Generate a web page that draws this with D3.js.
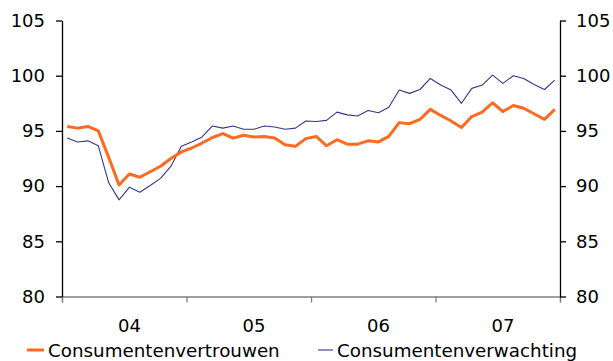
<!DOCTYPE html>
<html>
<head>
<meta charset="utf-8">
<script src="https://cdn.jsdelivr.net/npm/d3@7"></script>
<style>
  html, body { margin: 0; padding: 0; background: #fff; }
  svg { display: block; font-family: "DejaVu Sans", Verdana, sans-serif; }
</style>
</head>
<body>
<svg id="chart" width="613" height="361"></svg>
<script>
// Monthly index values, January 2004 – December 2007
const years = ["04", "05", "06", "07"];
const vertrouwen = [
  95.4, 95.25, 95.4, 95.0, 92.6, 90.1, 91.1, 90.8, 91.3, 91.8, 92.5, 93.1,
  93.45, 93.9, 94.4, 94.75, 94.35, 94.6, 94.45, 94.5, 94.35, 93.75, 93.6, 94.3,
  94.5, 93.65, 94.2, 93.8, 93.8, 94.1, 94.0, 94.5, 95.75, 95.65, 96.05, 96.95,
  96.4, 95.9, 95.3, 96.3, 96.7, 97.55, 96.75, 97.3, 97.05, 96.55, 96.05, 96.95
];
const verwachting = [
  94.35, 94.0, 94.1, 93.65, 90.3, 88.75, 89.9, 89.45, 90.05, 90.7, 91.8, 93.6,
  94.0, 94.45, 95.45, 95.25, 95.45, 95.15, 95.15, 95.45, 95.35, 95.15, 95.25, 95.9,
  95.85, 95.95, 96.7, 96.45, 96.35, 96.85, 96.65, 97.15, 98.7, 98.4, 98.75, 99.75,
  99.15, 98.7, 97.5, 98.85, 99.15, 100.05, 99.3, 100.0, 99.75, 99.2, 98.75, 99.6
];
const yTicks = [80, 85, 90, 95, 100, 105];
const seriesNames = ["Consumentenvertrouwen", "Consumentenverwachting"];
const seriesColors = ["#ff6a21", "#36368f"];

const svg = d3.select("#chart");
const plot = { left: 62, right: 560, top: 20.5, bottom: 296.5 };
const fontSize = 18;

const months = vertrouwen.length;
const x = d3.scaleLinear().domain([0, months]).range([plot.left, plot.right]);
const y = d3.scaleLinear().domain([80, 105]).range([plot.bottom, plot.top]);

// X axis: grey baseline with year separators, labels under each July
const xAxis = svg.append("g").attr("transform", `translate(0,${plot.bottom})`)
  .call(d3.axisBottom(x).tickValues(d3.range(0, months + 1, 12)).tickSize(6).tickFormat(""));
xAxis.select(".domain").attr("stroke", "#808080").attr("stroke-width", 1.3);
xAxis.selectAll(".tick line").attr("stroke", "#808080").attr("stroke-width", 1.3);

svg.append("g").selectAll("text").data(years).join("text")
  .attr("x", (d, i) => x(i * 12 + 6.5))
  .attr("y", 332)
  .attr("text-anchor", "middle")
  .attr("font-size", fontSize)
  .attr("fill", "#000")
  .text(d => d);

// Left and right value axes
const yLeft = svg.append("g").attr("transform", `translate(${plot.left},0)`)
  .call(d3.axisLeft(y).tickValues(yTicks).tickSize(6).tickPadding(11).tickSizeOuter(0));
const yRight = svg.append("g").attr("transform", `translate(${plot.right},0)`)
  .call(d3.axisRight(y).tickValues(yTicks).tickSize(6).tickPadding(10).tickSizeOuter(0));
[yLeft, yRight].forEach(g => {
  g.select(".domain").attr("stroke", "#000").attr("stroke-width", 1.3);
  g.selectAll(".tick line").attr("stroke", "#000").attr("stroke-width", 1.3);
  g.selectAll(".tick text").attr("font-size", fontSize).attr("fill", "#000")
    .attr("font-family", "DejaVu Sans, Verdana, sans-serif");
});

// Series lines
const line = d3.line().x((d, i) => x(i + 0.5)).y(d => y(d));
svg.append("path").datum(verwachting)
  .attr("fill", "none").attr("stroke", seriesColors[1]).attr("stroke-width", 1.1)
  .attr("stroke-linejoin", "round").attr("d", line);
svg.append("path").datum(vertrouwen)
  .attr("fill", "none").attr("stroke", seriesColors[0]).attr("stroke-width", 3)
  .attr("stroke-linejoin", "round").attr("d", line);

// Legend
const legendItems = [
  { x: 27, w: 17, sw: 3, c: seriesColors[0], t: seriesNames[0] },
  { x: 318, w: 15, sw: 1.1, c: seriesColors[1], t: seriesNames[1] }
];
const lg = svg.append("g");
legendItems.forEach(it => {
  lg.append("line").attr("x1", it.x).attr("x2", it.x + it.w)
    .attr("y1", 350).attr("y2", 350)
    .attr("stroke", it.c).attr("stroke-width", it.sw);
  lg.append("text").attr("x", it.x + it.w + 4).attr("y", 357)
    .attr("font-size", 18.3).attr("fill", "#000").text(it.t);
});
</script>
</body>
</html>
